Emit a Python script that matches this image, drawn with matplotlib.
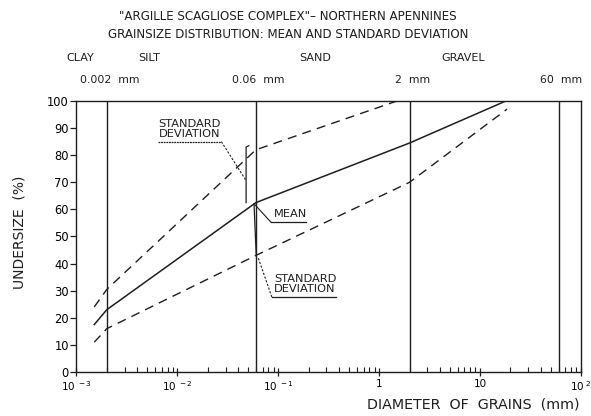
"""
Grain-size distribution of the "Argille Scagliose" complex: mean curve with
+/- one standard deviation envelope, on a log diameter axis.
"""

import matplotlib

matplotlib.use("Agg")   # headless backend
import matplotlib.pyplot as plt
import matplotlib.transforms as mtransforms
from matplotlib.ticker import FixedLocator, LogLocator, NullFormatter

# --- curves: grain diameter [mm] vs undersize [%] ---
MEAN_D = [0.0015, 0.002, 0.06, 2.0, 18.0]
MEAN_PCT = [17.5, 23.0, 62.5, 84.5, 100.0]
UPPER_D = [0.0015, 0.002, 0.06, 1.5]
UPPER_PCT = [24.0, 30.5, 82.0, 100.0]
LOWER_D = [0.0015, 0.002, 0.06, 2.0, 18.5]
LOWER_PCT = [11.0, 16.0, 43.0, 70.0, 97.0]

# class boundaries and their labels
BOUNDS_D = [0.002, 0.06, 2.0, 60.0]
BOUND_LABELS = ["0.002  mm", "0.06  mm", "2  mm", "60  mm"]
FRACTIONS = ["CLAY", "SILT", "SAND", "GRAVEL"]

X_TICKS = [1e-3, 1e-2, 1e-1, 1.0, 10.0, 100.0]
X_TICK_LABELS = [r"$10^{\ -3}$", r"$10^{\ -2}$", r"$10^{\ -1}$", "1", "10", r"$10^{\ 2}$"]
Y_TICKS = list(range(0, 101, 10))

INK = "#1e1e1e"


def underlined(ax, x0, x1, y, **kw):
    ax.plot([x0, x1], [y, y], color=INK, lw=0.9, clip_on=False, **kw)


def plot(path="out.png"):
    fig = plt.figure(figsize=(5.91, 4.16), dpi=100)
    ax = fig.add_axes([0.1294, 0.1058, 0.8536, 0.6514])

    # class boundaries
    for d in BOUNDS_D:
        ax.plot([d, d], [0, 100], color=INK, lw=1.0)

    ax.plot(MEAN_D, MEAN_PCT, "-", color=INK, lw=1.1)
    for xs, ys in ((UPPER_D, UPPER_PCT), (LOWER_D, LOWER_PCT)):
        ax.plot(xs, ys, color=INK, lw=1.0, dashes=(6.5, 4.5))

    ax.set_xscale("log")
    ax.set_xlim(1e-3, 1e2)
    ax.set_ylim(0, 100)

    ax.xaxis.set_major_locator(FixedLocator(X_TICKS))
    ax.set_xticklabels(X_TICK_LABELS, fontsize=7.5)
    ax.xaxis.set_minor_locator(LogLocator(base=10, subs=range(2, 10)))
    ax.xaxis.set_minor_formatter(NullFormatter())
    ax.tick_params(axis="x", which="major", direction="inout", length=6, width=0.9,
                   color=INK, pad=2)
    ax.tick_params(axis="x", which="minor", direction="in", length=3.5, width=0.8,
                   color=INK)
    ax.set_yticks(Y_TICKS)
    ax.tick_params(axis="y", direction="out", length=4, width=0.9, color=INK,
                   labelsize=8.3, pad=1.5)
    for sp in ax.spines.values():
        sp.set_color(INK)
        sp.set_linewidth(1.0)

    # --- annotations ---
    # upper standard deviation
    ax.plot([0.048, 0.048, 0.051], [62.5, 83.0, 83.5], color=INK, lw=0.9)
    ax.plot([0.0273, 0.0473], [85.0, 71.0], color=INK, lw=0.8, dashes=(2.0, 1.5))
    ax.text(0.0065, 85.8, "STANDARD\nDEVIATION", fontsize=8.2, color=INK,
            ha="left", va="bottom", linespacing=1.0)
    underlined(ax, 0.0065, 0.0273, 85.0, dashes=(1.5, 0.6))

    # mean
    ax.plot([0.0578, 0.0845], [62.0, 55.3], color=INK, lw=0.8)
    ax.text(0.0912, 56.5, "MEAN", fontsize=8.2, color=INK, ha="left", va="bottom")
    underlined(ax, 0.0845, 0.189, 55.3)

    # lower standard deviation
    ax.plot([0.0575, 0.0605], [62.0, 43.0], color=INK, lw=0.9)
    ax.plot([0.0634, 0.0865], [42.0, 27.6], color=INK, lw=0.8, dashes=(2.0, 1.5))
    ax.text(0.0912, 28.6, "STANDARD\nDEVIATION", fontsize=8.2, color=INK,
            ha="left", va="bottom", linespacing=1.0)
    underlined(ax, 0.0865, 0.373, 27.6)

    # header: boundary sizes and fraction names (x in data, y in figure)
    trans = mtransforms.blended_transform_factory(ax.transData, fig.transFigure)
    for d, lab in zip(BOUNDS_D, BOUND_LABELS):
        ax.text(d * 1.06, 1 - 80 / 416, lab, transform=trans, fontsize=7.8, color=INK,
                ha="center", va="center")
    for xpos, name in zip([0.00108, 0.0053, 0.23, 6.8], FRACTIONS):
        ax.text(xpos, 1 - 58 / 416, name, transform=trans, fontsize=8, color=INK,
                ha="center", va="center")

    fig.text(288 / 591, 1 - 17 / 416,
             "\"ARGILLE SCAGLIOSE COMPLEX\"\u2013 NORTHERN APENNINES",
             fontsize=8.6, color=INK, ha="center", va="center")
    fig.text(288 / 591, 1 - 34 / 416,
             "GRAINSIZE DISTRIBUTION: MEAN AND STANDARD DEVIATION",
             fontsize=8.6, color=INK, ha="center", va="center")

    fig.text(20 / 591, 1 - 232 / 416, "UNDERSIZE  (%)", rotation=90, fontsize=10,
             color=INK, ha="center", va="center")
    fig.text(580 / 591, 1 - 404 / 416, "DIAMETER  OF  GRAINS  (mm)", fontsize=10.3,
             color=INK, ha="right", va="center")

    fig.savefig(path, dpi=100)


def main():
    plot()


if __name__ == "__main__":
    main()
